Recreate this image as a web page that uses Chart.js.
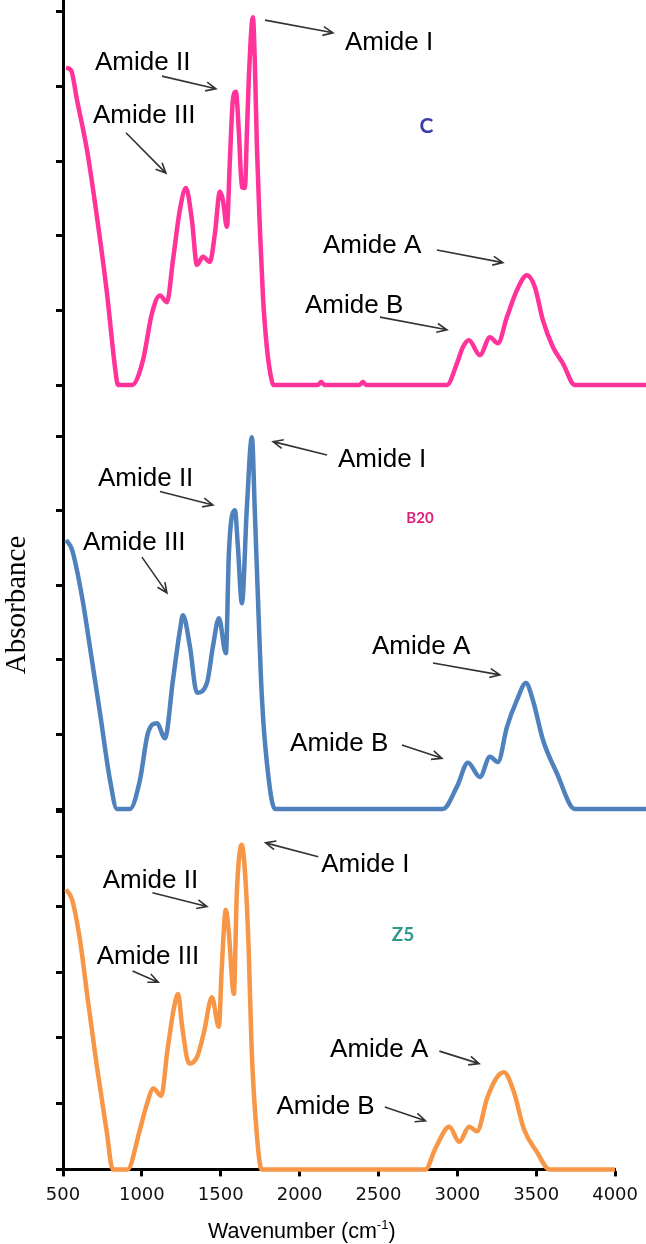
<!DOCTYPE html>
<html>
<head>
<meta charset="utf-8">
<script src="https://cdn.jsdelivr.net/npm/chart.js@4.4.0/dist/chart.umd.min.js"></script>
<style>
  html, body { margin: 0; padding: 0; background: #fff; }
  #wrap { position: relative; width: 646px; height: 1244px; }
  #wrap canvas { position: absolute; left: 0; top: 0; }
</style>
</head>
<body>
<div id="wrap">
  <canvas id="panelC" width="646" height="1244"></canvas>
  <canvas id="panelB20" width="646" height="1244"></canvas>
  <canvas id="panelZ5" width="646" height="1244"></canvas>
</div>
<script>
// ---- spectra (wavenumber cm-1 / absorbance, arbitrary units) ----
const waveC = [518, 548, 584, 644, 704, 764, 812, 830, 915, 980, 1034, 1082, 1124, 1160, 1202, 1238, 1274, 1304, 1340, 1382, 1412, 1442, 1460, 1484, 1502, 1520, 1538, 1556, 1574, 1592, 1604, 1616, 1640, 1652, 1664, 1682, 1700, 1724, 1754, 1764, 2030, 2050, 2070, 2280, 2300, 2320, 2805, 2865, 2901, 2937, 3003, 3063, 3111, 3165, 3225, 3285, 3333, 3381, 3441, 3501, 3573, 4000];
const absC = [4.25, 4.22, 3.82, 3.15, 2.25, 1.23, 0.24, 0, 0, 0.33, 0.96, 1.2, 1.11, 1.67, 2.35, 2.64, 2.21, 1.61, 1.72, 1.65, 2.03, 2.59, 2.48, 2.12, 3.02, 3.82, 3.93, 3.38, 2.65, 2.64, 3.38, 4.13, 4.93, 4.3, 3.2, 2.1, 1.2, 0.5, 0.05, 0, 0, 0.04, 0, 0, 0.04, 0, 0, 0.29, 0.51, 0.6, 0.4, 0.64, 0.56, 0.91, 1.27, 1.47, 1.31, 0.87, 0.51, 0.29, 0, 0];

const waveB20 = [518, 554, 614, 662, 722, 782, 824, 902, 962, 1010, 1064, 1112, 1160, 1202, 1220, 1262, 1304, 1364, 1400, 1436, 1478, 1496, 1532, 1550, 1574, 1604, 1634, 1652, 1670, 1694, 1724, 1772, 2781, 2865, 2931, 3003, 3063, 3111, 3165, 3225, 3279, 3321, 3381, 3465, 3573, 4000];
const absB20 = [3.61, 3.48, 2.85, 2.17, 1.29, 0.39, 0, 0, 0.39, 1.02, 1.15, 0.95, 1.73, 2.4, 2.6, 2.18, 1.56, 1.69, 2.18, 2.56, 2.09, 3.44, 4.01, 3.52, 2.76, 4.05, 4.99, 3.97, 2.85, 1.5, 0.62, 0, 0, 0.3, 0.62, 0.43, 0.7, 0.63, 1.1, 1.46, 1.69, 1.46, 0.93, 0.48, 0, 0];

const waveZ5 = [519, 557, 607, 657, 714, 777, 815, 909, 985, 1029, 1073, 1123, 1161, 1205, 1230, 1255, 1300, 1350, 1394, 1444, 1488, 1507, 1532, 1551, 1583, 1602, 1633, 1658, 1677, 1696, 1727, 1759, 2798, 2861, 2949, 3012, 3075, 3125, 3188, 3250, 3295, 3358, 3421, 3503, 3585, 4000];
const absZ5 = [4.26, 4.11, 3.5, 2.59, 1.58, 0.58, 0, 0, 0.58, 0.97, 1.23, 1.12, 1.79, 2.48, 2.67, 2.18, 1.61, 1.71, 2.09, 2.62, 2.17, 3.09, 3.95, 3.61, 2.67, 4.21, 4.94, 4.36, 3.35, 1.83, 0.58, 0, 0, 0.32, 0.65, 0.42, 0.65, 0.58, 1.08, 1.4, 1.48, 1.18, 0.62, 0.27, 0, 0];

const xTicks = [500, 1000, 1500, 2000, 2500, 3000, 3500, 4000];
const yTicksC = [0, 1, 2, 3, 4, 5];
const yTicksB20 = [0, 1, 2, 3, 4, 5];
const yTicksZ5 = [0, 1, 2, 3, 4, 4.76, 5.45];

// ---- labels and arrows, placed in data units ----
const notesC = [
  { text: "Amide I", at: [2193, 4.49], arrow: [[1713, 4.89], [2121, 4.72]] },
  { text: "Amide II", at: [692, 4.22], arrow: [[1094, 4.14], [1418, 3.97]] },
  { text: "Amide III", at: [680, 3.51], arrow: [[878, 3.38], [1118, 2.84]] },
  { text: "Amide A", at: [2061, 1.77], arrow: [[2745, 1.81], [3141, 1.64]] },
  { text: "Amide B", at: [1953, 0.97], arrow: [[2403, 0.91], [2805, 0.74]] }
];
const notesB20 = [
  { text: "Amide I", at: [2151, 4.59], arrow: [[2085, 4.75], [1761, 4.93]] },
  { text: "Amide II", at: [710, 4.34], arrow: [[1082, 4.26], [1400, 4.08]] },
  { text: "Amide III", at: [620, 3.48], arrow: [[974, 3.38], [1124, 2.9]] },
  { text: "Amide A", at: [2355, 2.08], arrow: [[2721, 1.96], [3123, 1.8]] },
  { text: "Amide B", at: [1863, 0.78], arrow: [[2535, 0.86], [2775, 0.68]] }
];
const notesZ5 = [
  { text: "Amide I", at: [2137, 4.52], arrow: [[2118, 4.76], [1784, 4.97]] },
  { text: "Amide II", at: [752, 4.29], arrow: [[1067, 4.21], [1413, 4.0]] },
  { text: "Amide III", at: [714, 3.12], arrow: [[941, 3.02], [1104, 2.85]] },
  { text: "Amide A", at: [2193, 1.71], arrow: [[2886, 1.8], [3138, 1.61]] },
  { text: "Amide B", at: [1853, 0.85], arrow: [[2540, 0.95], [2798, 0.74]] }
];
const sampleC = { text: "C", at: [2682, 3.38], color: "#3a3aa8", size: 21 };
const sampleB20 = { text: "B20", at: [2643, 3.84], color: "#e0207a", size: 15 };
const sampleZ5 = { text: "Z5", at: [2656, 3.47], color: "#2e9a8c", size: 19 };

Chart.defaults.font.family = "'Liberation Sans', Arial, sans-serif";
Chart.defaults.color = "#000";

function drawArrow(ctx, x1, y1, x2, y2) {
  const ang = Math.atan2(y2 - y1, x2 - x1);
  const head = 11;
  ctx.beginPath();
  ctx.moveTo(x1, y1);
  ctx.lineTo(x2, y2);
  ctx.moveTo(x2 - head * Math.cos(ang - 0.42), y2 - head * Math.sin(ang - 0.42));
  ctx.lineTo(x2, y2);
  ctx.lineTo(x2 - head * Math.cos(ang + 0.42), y2 - head * Math.sin(ang + 0.42));
  ctx.stroke();
}

// draws the peak names, arrows and sample tag on top of a panel
function notesPlugin(notes, sample, extra) {
  return {
    id: "notes",
    afterDraw(chart) {
      const { ctx, scales: { x, y } } = chart;
      const px = (p) => [x.getPixelForValue(p[0]), y.getPixelForValue(p[1])];
      ctx.save();
      ctx.fillStyle = "#000";
      ctx.strokeStyle = "#333";
      ctx.lineWidth = 1.6;
      ctx.font = "26px 'Liberation Sans', Arial, sans-serif";
      ctx.textAlign = "left";
      ctx.textBaseline = "alphabetic";
      notes.forEach((n) => {
        const [tx, ty] = px(n.at);
        ctx.fillText(n.text, tx, ty);
        const [a, b] = n.arrow.map(px);
        drawArrow(ctx, a[0], a[1], b[0], b[1]);
      });
      const [sx, sy] = px(sample.at);
      ctx.font = "bold " + sample.size + "px Lato, 'Open Sans', sans-serif";
      ctx.fillStyle = sample.color;
      ctx.textAlign = "center";
      ctx.fillText(sample.text, sx, sy);
      if (extra) extra(ctx);
      ctx.restore();
    }
  };
}

function makePanel(id, wave, abs, color, yTicks, yMax, pad, showX, notes, sample, extra) {
  return new Chart(document.getElementById(id), {
    type: "line",
    data: {
      datasets: [{
        data: wave.map((w, i) => ({ x: w, y: abs[i] })),
        borderColor: color,
        borderWidth: 4.5,
        pointRadius: 0,
        cubicInterpolationMode: "monotone",
        clip: false
      }]
    },
    options: {
      responsive: false,
      animation: false,
      layout: { padding: pad },
      plugins: { legend: { display: false }, tooltip: { enabled: false } },
      scales: {
        x: {
          type: "linear",
          min: 500,
          max: 4000,
          display: showX,
          afterBuildTicks: (s) => { s.ticks = xTicks.map((v) => ({ value: v })); },
          border: { color: "#000", width: 3 },
          grid: { drawOnChartArea: false, drawTicks: true, tickLength: 7, tickWidth: 3, tickColor: "#000" },
          ticks: {
            font: { family: "'DejaVu Sans', Verdana, sans-serif", size: 18 },
            color: "#111",
            padding: 8,
            maxRotation: 0,
            callback: (v) => String(v)
          }
        },
        y: {
          type: "linear",
          min: 0,
          max: yMax,
          afterBuildTicks: (s) => { s.ticks = yTicks.map((v) => ({ value: v })); },
          border: { color: "#000", width: 3 },
          grid: { drawOnChartArea: false, drawTicks: true, tickLength: 7, tickWidth: 3, tickColor: "#000" },
          ticks: { display: false }
        }
      }
    },
    plugins: [notesPlugin(notes, sample, extra)]
  });
}

makePanel("panelC", waveC, absC, "#ff3399", yTicksC, 5.16,
  { left: 56, top: 0, right: 0, bottom: 859 }, false, notesC, sampleC);

makePanel("panelB20", waveB20, absB20, "#4f81bd", yTicksB20, 5.69,
  { left: 56, top: 385, right: 0, bottom: 435 }, false, notesB20, sampleB20,
  (ctx) => {
    // shared y title
    ctx.save();
    ctx.translate(25, 605);
    ctx.rotate(-Math.PI / 2);
    ctx.fillStyle = "#000";
    ctx.font = "29px 'Liberation Serif', 'Times New Roman', serif";
    ctx.textAlign = "center";
    ctx.textBaseline = "alphabetic";
    ctx.fillText("Absorbance", 0, 0);
    ctx.restore();
  });

makePanel("panelZ5", waveZ5, absZ5, "#f79646", yTicksZ5, 5.47,
  { left: 56, top: 810, right: 27, bottom: 30 }, true, notesZ5, sampleZ5,
  (ctx) => {
    // x title with superscript
    ctx.save();
    ctx.fillStyle = "#000";
    ctx.textAlign = "left";
    ctx.textBaseline = "alphabetic";
    const main = "Wavenumber (cm";
    ctx.font = "21.5px 'Liberation Sans', Arial, sans-serif";
    let x = 208;
    ctx.fillText(main, x, 1238);
    x += ctx.measureText(main).width;
    ctx.font = "13px 'Liberation Sans', Arial, sans-serif";
    ctx.fillText("-1", x, 1229);
    x += ctx.measureText("-1").width;
    ctx.font = "21.5px 'Liberation Sans', Arial, sans-serif";
    ctx.fillText(")", x, 1238);
    ctx.restore();
  });
</script>
</body>
</html>
